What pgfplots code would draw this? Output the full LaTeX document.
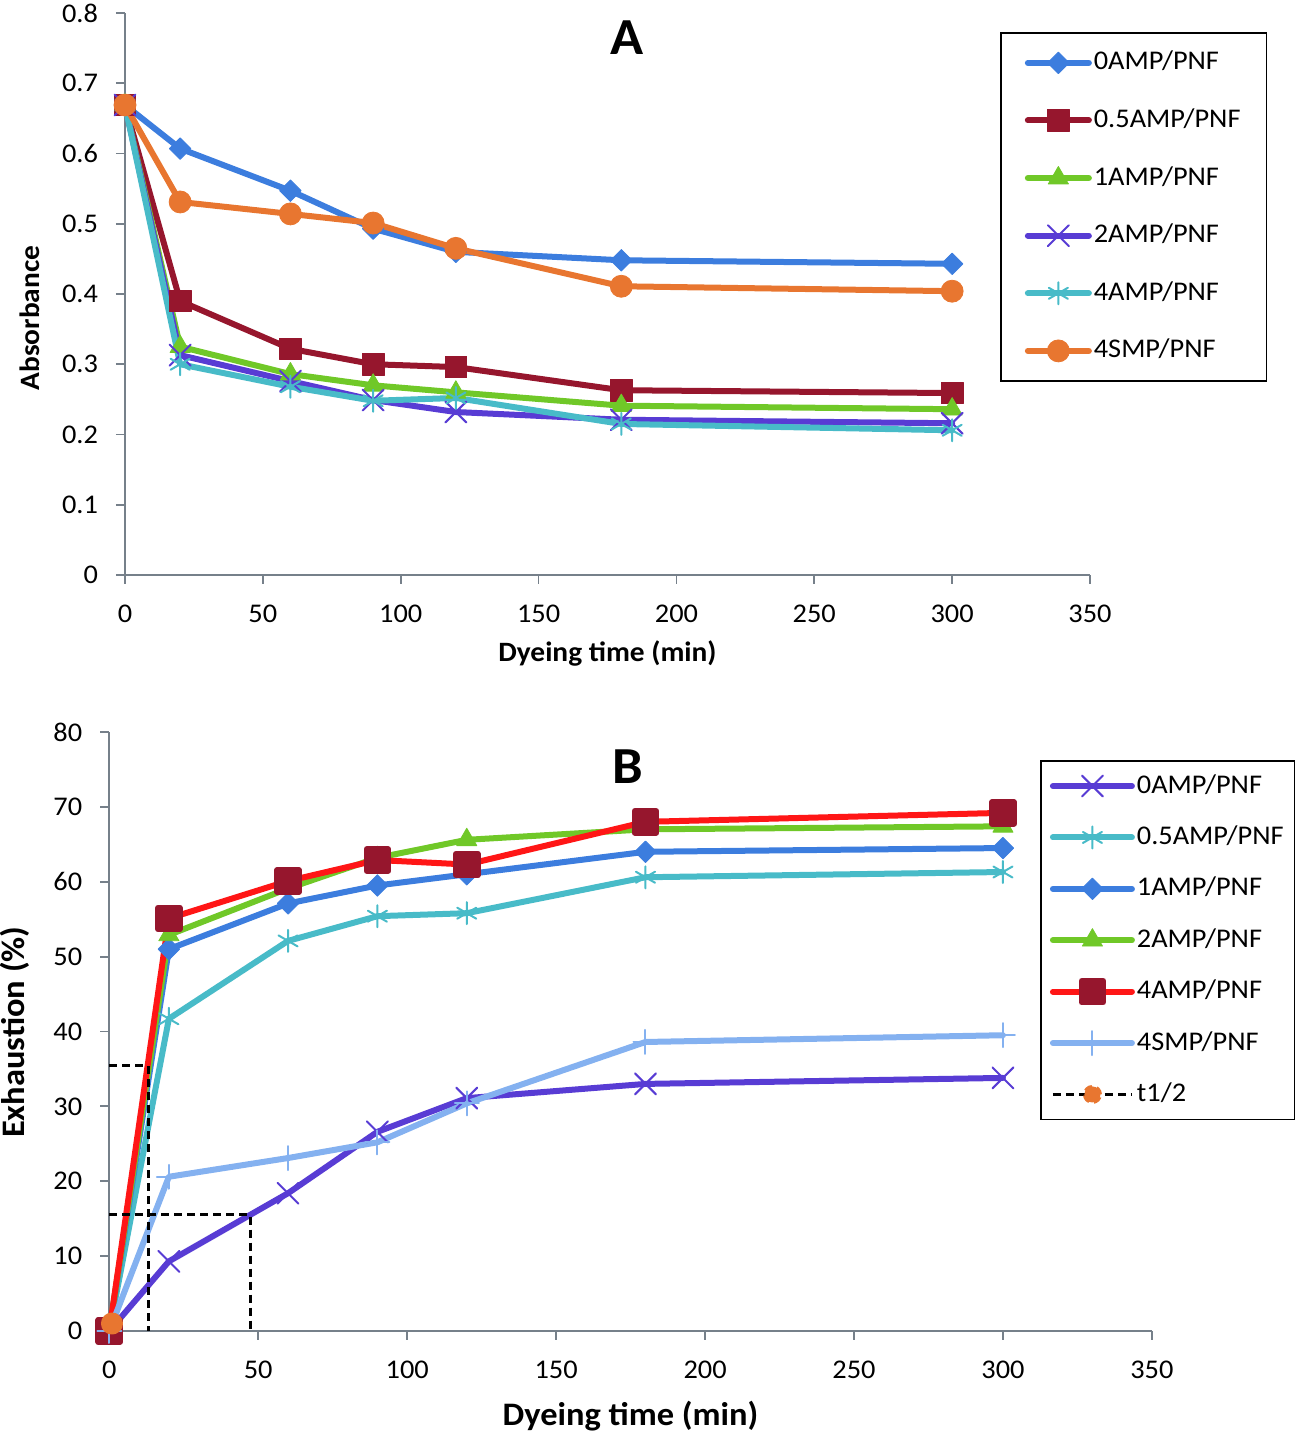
\documentclass[border=0pt]{standalone}
\usepackage{fontspec}
\setmainfont{Carlito}[FakeStretch=1.05]
\usepackage{pgfplots}
\pgfplotsset{compat=1.18}
\definecolor{cBlue}{RGB}{60,125,222}
\definecolor{cDRed}{RGB}{150,22,45}
\definecolor{cGreen}{RGB}{112,200,40}
\definecolor{cPurple}{RGB}{88,60,212}
\definecolor{cTeal}{RGB}{72,187,200}
\definecolor{cOrange}{RGB}{232,118,48}
\definecolor{cRed}{RGB}{255,22,22}
\definecolor{cLBlue}{RGB}{132,177,240}
\definecolor{cAxis}{RGB}{118,128,138}

\pgfplotsset{
  excel/.style={
    scale only axis,
    axis x line*=bottom, axis y line*=left,
    axis line style={cAxis, line width=0.9pt},
    tick style={cAxis, line width=0.9pt},
    tick align=outside, major tick length=4.5pt,
    xmin=0, xmax=350, xtick={0,50,...,350},
    clip=false,
    /pgf/number format/assume math mode=true,
    tick label style={font=\fontsize{13.5}{16}\selectfont, black},
    xticklabel style={yshift=-7pt},
    every axis plot/.append style={line width=3pt, line join=round, line cap=round},
    legend cell align=left,
  },
  sDiamond/.style={mark=square*, mark size=3.8pt, mark options={rotate=45, solid, line width=0.4pt}},
  sSquare/.style={mark=square*, mark size=5.4pt, mark options={solid, line width=0.4pt}},
  sTri/.style={mark=triangle*, mark size=5.8pt, mark options={solid, line width=0.4pt}},
  sX/.style={mark=x, mark size=7.4pt, mark options={solid, line width=1pt}},
  sStar/.style={mark=asterisk, mark size=5.5pt, mark options={solid, line width=1pt}},
  sCirc/.style={mark=*, mark size=5.5pt, mark options={solid, line width=0.4pt}},
  sPlus/.style={mark=+, mark size=6pt, mark options={solid, line width=1pt}},
}

\begin{document}
\begin{tikzpicture}
\useasboundingbox (0,0) rectangle (649.5pt,718pt);

% ---------------- Panel A ----------------
\begin{axis}[excel,
  at={(62.5pt,430.5pt)}, anchor=south west, width=482.5pt, height=281pt,
  ymin=0, ymax=0.8, ytick={0,0.1,0.2,0.3,0.4,0.5,0.6,0.7,0.8},
  yticklabel style={/pgf/number format/fixed, /pgf/number format/precision=1, xshift=-5.5pt},
  xlabel={Dyeing time (min)}, ylabel={Absorbance},
  label style={font=\bfseries\fontsize{14}{17}\selectfont},
  xlabel style={at={(axis description cs:0.5,-0.1388)}, anchor=center},
  ylabel style={at={(axis description cs:-0.0984,0.457)}, anchor=center},
  legend style={at={(0.9067,0.9662)}, anchor=north west, draw=black, line width=0.9pt, fill=white,
    inner xsep=12pt, inner ysep=7.5pt, row sep=13.8pt,
    nodes={inner sep=1pt, text height=10pt, text depth=3pt, font=\fontsize{13.5}{16}\selectfont}},
  legend image code/.code={\draw[#1, mark repeat=2, mark phase=2] plot coordinates {(0pt,0pt) (15.25pt,0pt) (30.5pt,0pt)};},
]
\addplot[cBlue, sDiamond] coordinates {(0,0.669) (20,0.607) (60,0.547) (90,0.493) (120,0.460) (180,0.448) (300,0.443)};
\addlegendentry{0AMP/PNF}
\addplot[cDRed, sSquare] coordinates {(0,0.669) (20,0.390) (60,0.322) (90,0.300) (120,0.296) (180,0.263) (300,0.259)};
\addlegendentry{0.5AMP/PNF}
\addplot[cGreen, sTri] coordinates {(0,0.669) (20,0.325) (60,0.286) (90,0.270) (120,0.260) (180,0.241) (300,0.236)};
\addlegendentry{1AMP/PNF}
\addplot[cPurple, sX] coordinates {(0,0.669) (20,0.313) (60,0.276) (90,0.249) (120,0.232) (180,0.221) (300,0.216)};
\addlegendentry{2AMP/PNF}
\addplot[cTeal, sStar] coordinates {(0,0.669) (20,0.300) (60,0.268) (90,0.248) (120,0.252) (180,0.215) (300,0.206)};
\addlegendentry{4AMP/PNF}
\addplot[cOrange, sCirc] coordinates {(0,0.669) (20,0.531) (60,0.514) (90,0.501) (120,0.465) (180,0.411) (300,0.404)};
\addlegendentry{4SMP/PNF}
\node[font=\bfseries\fontsize{26}{30}\selectfont] at (axis description cs:0.520,0.9555) {A};
\end{axis}

% ---------------- Panel B ----------------
\begin{axis}[excel,
  at={(54.65pt,52.5pt)}, anchor=south west, width=521.3pt, height=299.5pt,
  ymin=0, ymax=80, ytick={0,10,...,80},
  yticklabel style={xshift=-5.5pt},
  unbounded coords=jump,
  xlabel={Dyeing time (min)}, ylabel={Exhaustion (\%)},
  label style={font=\bfseries\fontsize{16.4}{19}\selectfont},
  xlabel style={at={(axis description cs:0.5,-0.1419)}, anchor=center},
  ylabel style={at={(axis description cs:-0.0902,0.499)}, anchor=center},
  legend style={at={(0.8927,0.953)}, anchor=north west, draw=black, line width=0.9pt, fill=white,
    inner xsep=4.5pt, inner ysep=5pt, row sep=10.7pt,
    nodes={inner sep=1pt, text height=10pt, text depth=3pt, font=\fontsize{13.5}{16}\selectfont}},
  legend image code/.code={\draw[#1, mark repeat=2, mark phase=2] plot coordinates {(0pt,0pt) (19.75pt,0pt) (39.5pt,0pt)};},
]
\addplot[cPurple, sX] coordinates {(0,0) (20,9.3) (60,18.4) (90,26.6) (120,31.1) (180,33.0) (300,33.8)};
\addlegendentry{0AMP/PNF}
\addplot[cTeal, sStar] coordinates {(0,0) (20,41.7) (60,52.1) (90,55.4) (120,55.8) (180,60.6) (300,61.3)};
\addlegendentry{0.5AMP/PNF}
\addplot[cBlue, sDiamond] coordinates {(0,0) (20,51.0) (60,57.1) (90,59.5) (120,61.0) (180,64.0) (300,64.5)};
\addlegendentry{1AMP/PNF}
\addplot[cGreen, sTri] coordinates {(0,0) (20,52.9) (60,59.1) (90,63.2) (120,65.6) (180,67.0) (300,67.4)};
\addlegendentry{2AMP/PNF}
\addplot[cRed, sSquare, mark options={fill=cDRed, draw=cDRed}] coordinates {(0,0) (20,55.1) (60,60.1) (90,62.9) (120,62.3) (180,68.0) (300,69.2)};
\addlegendentry{4AMP/PNF}
\addplot[cLBlue, sPlus] coordinates {(0,0) (20,20.6) (60,23.1) (90,25.2) (120,30.4) (180,38.6) (300,39.5)};
\addlegendentry{4SMP/PNF}
\addplot[black, line width=1.5pt, dash pattern=on 4pt off 2.5pt, line cap=butt,
  legend image code/.code={\draw[black, line width=1.5pt, dash pattern=on 4pt off 2.5pt] (0pt,0pt) -- (39.5pt,0pt); \fill[cOrange] (19.75pt,0pt) circle (4pt);}]
  coordinates {(0,35.4) (13.0,35.4) (13.0,0) (30,nan) (0,15.5) (47.4,15.5) (47.4,0)};
\addlegendentry{t1/2}
\addplot[only marks, mark=*, mark size=4pt, cOrange, forget plot] coordinates {(0.9,1.0)};
\node[font=\bfseries\fontsize{26}{30}\selectfont] at (axis description cs:0.4975,0.943) {B};
\end{axis}
\end{tikzpicture}
\end{document}
